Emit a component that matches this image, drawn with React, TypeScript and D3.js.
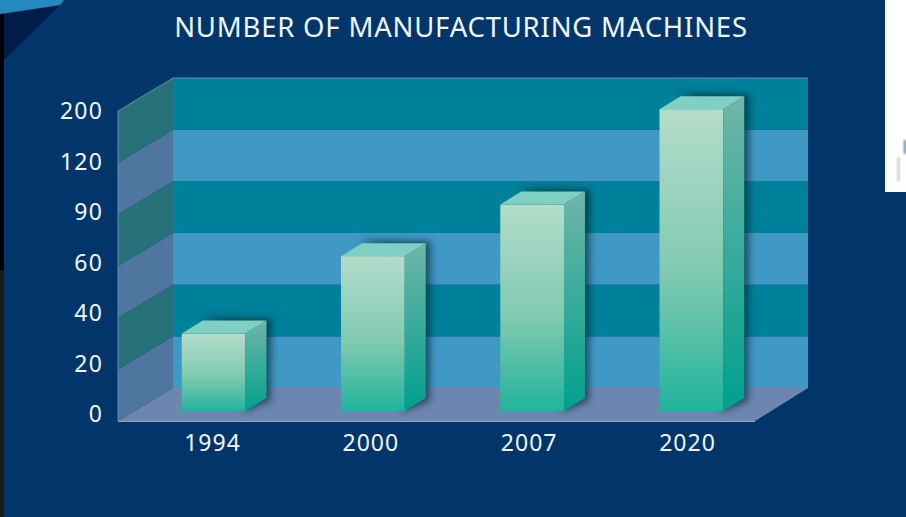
import React from "react";
import * as d3 from "d3";

const categories = ["1994", "2000", "2007", "2020"];
const values = [30, 60, 90, 188];
const tickValues = [0, 20, 40, 60, 90, 120, 200];
const bandCount = 6;

const W = 906, H = 517;
const frontLeft = 118, frontRight = 755, frontBase = 421;
const depthX = 55, depthY = -33;
const step = 51.6;
const barBase = 411;

const tickIndex = d3.range(tickValues.length);
const tickY = d3.scaleLinear().domain(tickIndex).range(tickIndex.map(i => 414 - i * 50.5));
const barY = d3.scalePoint<number>().domain(tickValues).range([barBase, barBase - 6 * step]);
const valueY = d3.scaleLinear().domain(tickValues).range(tickValues.map(v => barY(v) as number));
const xBand = d3.scaleBand<string>().domain(categories).range([134, 771]).paddingInner(0.6).paddingOuter(0.3);
const labelX = d3.scalePoint<string>().domain(categories).range([212.5, 687.5]);
const wallY = d3.scaleLinear().domain([0, bandCount]).range([frontBase, frontBase - bandCount * 51.67]);

const pts = (p: number[][]) => p.map(d => d.join(",")).join(" ");

export default function App() {
  const bands = d3.range(bandCount);
  const bw = xBand.bandwidth();
  const dx = 21, dy = -13;
  const font = "'Noto Sans', sans-serif";
  return (
    <svg width={W} height={H} style={{ position: "fixed", left: 0, top: 0, display: "block" }}>
      <defs>
        <linearGradient id="front" x1="0" y1="0" x2="0" y2="1">
          <stop offset="0" stopColor="#b4dccb" />
          <stop offset="0.55" stopColor="#7fcab0" />
          <stop offset="1" stopColor="#22b39c" />
        </linearGradient>
        <linearGradient id="side" x1="0" y1="0" x2="0" y2="1">
          <stop offset="0" stopColor="#6fb6a8" />
          <stop offset="1" stopColor="#00a08e" />
        </linearGradient>
        <filter id="blur" x="-40%" y="-40%" width="180%" height="180%">
          <feGaussianBlur stdDeviation="3.5" />
        </filter>
        <filter id="soft" x="-100%" y="-20%" width="300%" height="140%">
          <feGaussianBlur stdDeviation="0.8" />
        </filter>
      </defs>
      <rect width={W} height={H} fill="#02366b" />
      <rect x={0} y={0} width={4} height={H} fill="#000000" />
      <rect x={0} y={270} width={4} height={H - 270} fill="#1c1c1c" />
      <polygon points={pts([[4, 14], [60, 5], [4, 60]])} fill="#001c48" />
      <polygon points={pts([[0, 0], [64, 0], [60, 5], [0, 14]])} fill="#2489bd" />
      <rect x={885} y={0} width={21} height={192} fill="#ffffff" />
      <rect x={904} y={140} width={2} height={14} fill="#3d7f9e" filter="url(#soft)" />
      <rect x={897} y={157} width={3} height={24} fill="#d2d5d8" filter="url(#soft)" />

      {bands.map(i => {
        const y0 = wallY(i), y1 = wallY(i + 1);
        const teal = i % 2 === 1;
        return (
          <g key={i}>
            <polygon
              points={pts([[frontLeft, y0], [frontLeft + depthX, y0 + depthY], [frontLeft + depthX, y1 + depthY], [frontLeft, y1]])}
              fill={teal ? "#277179" : "#4f769f"}
            />
            <rect x={frontLeft + depthX} y={y1 + depthY} width={frontRight - frontLeft - 2} height={y0 - y1} fill={teal ? "#00819b" : "#4098c4"} />
          </g>
        );
      })}
      <polygon
        points={pts([[frontLeft, frontBase], [frontLeft + depthX, frontBase + depthY], [frontRight + 53, frontBase + depthY], [frontRight, frontBase]])}
        fill="#6c86b0"
      />
      <polyline
        points={pts([[frontLeft, frontBase], [frontLeft, wallY(6)], [frontLeft + depthX, wallY(6) + depthY], [frontRight + 53, wallY(6) + depthY]])}
        fill="none" stroke="#5f8fa3" strokeWidth={1}
      />
      <line x1={frontLeft} x2={frontRight} y1={frontBase + 0.5} y2={frontBase + 0.5} stroke="#8fa8c6" strokeWidth={1} />

      {categories.map((c, i) => {
        const x = xBand(c) as number;
        const top = valueY(values[i]);
        return (
          <g key={c}>
            <polygon
              points={pts([[x + bw - 2, barBase + 1], [x + bw + dx + 4, barBase + dy + 3], [x + bw + dx + 5, top + dy - 2], [x + 18, top + dy - 3], [x + bw - 2, top]])}
              fill="#00202c" opacity={0.62} filter="url(#blur)"
            />
            <rect x={x} y={top} width={bw} height={barBase - top} fill="url(#front)" />
            <polygon
              points={pts([[x + bw, top], [x + bw + dx, top + dy], [x + bw + dx, barBase + dy], [x + bw, barBase]])}
              fill="url(#side)"
            />
            <polygon
              points={pts([[x, top], [x + dx, top + dy], [x + bw + dx, top + dy], [x + bw, top]])}
              fill="#80cfc3"
            />
          </g>
        );
      })}

      <text x={461} y={37} textAnchor="middle" fill="#f2f6fa" fontFamily={font} fontSize={27.5} letterSpacing={0.8}>
        NUMBER OF MANUFACTURING MACHINES
      </text>
      {tickValues.map((t, i) => (
        <text key={t} x={103} y={tickY(i) + 8} textAnchor="end" fill="#f2f6fa" fontFamily={font} fontSize={23} letterSpacing={1.2}>
          {t}
        </text>
      ))}
      {categories.map(c => (
        <text key={c} x={labelX(c)} y={451} textAnchor="middle" fill="#f2f6fa" fontFamily={font} fontSize={23} letterSpacing={1}>
          {c}
        </text>
      ))}
    </svg>
  );
}
